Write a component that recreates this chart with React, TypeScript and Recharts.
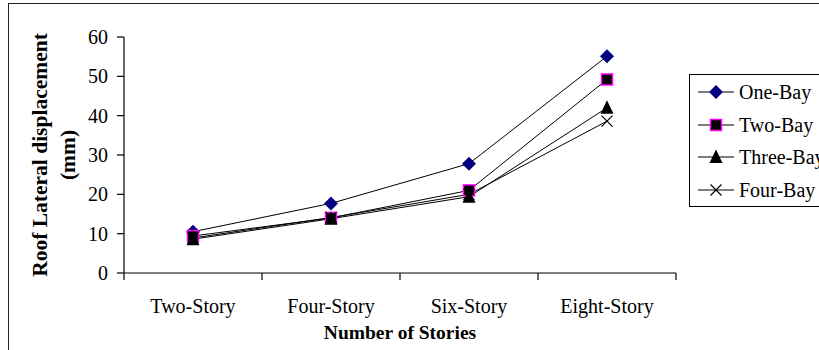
import React from 'react';
import { LineChart, Line, XAxis, YAxis } from 'recharts';

// Categories and series values (roof lateral displacement, mm)
const stories = ['Two-Story', 'Four-Story', 'Six-Story', 'Eight-Story'];
const oneBay = [10.5, 17.7, 27.8, 55.1];
const twoBay = [9.4, 14.0, 21.0, 49.2];
const threeBay = [8.6, 13.8, 19.4, 42.0];
const fourBay = [8.9, 14.1, 20.0, 38.6];
const yTicks = [0, 10, 20, 30, 40, 50, 60];

const seriesNames = ['One-Bay', 'Two-Bay', 'Three-Bay', 'Four-Bay'];

const data = stories.map((s, i) => ({
  story: s,
  'One-Bay': oneBay[i],
  'Two-Bay': twoBay[i],
  'Three-Bay': threeBay[i],
  'Four-Bay': fourBay[i],
}));

const FONT = '"Liberation Serif", "Times New Roman", serif';
const W = 819;
const H = 350;
const MARGIN = { top: 37, right: 143, bottom: 0, left: 84 };
const Y_AXIS_W = 40;
const X_AXIS_H = 77;
const PLOT_W = W - MARGIN.left - Y_AXIS_W - MARGIN.right;
const HALF_BAND = PLOT_W / stories.length / 2;

type MarkerProps = { cx: number; cy: number };

const Diamond = ({ cx, cy }: MarkerProps) => (
  <path d={`M${cx},${cy - 7}L${cx + 7},${cy}L${cx},${cy + 7}L${cx - 7},${cy}Z`} fill="#000080" />
);
const Square = ({ cx, cy }: MarkerProps) => (
  <rect x={cx - 5.5} y={cy - 5.5} width={11} height={11} fill="#000" stroke="#FF00FF" strokeWidth={1.5} />
);
const Triangle = ({ cx, cy }: MarkerProps) => (
  <path d={`M${cx},${cy - 7.5}L${cx + 6.5},${cy + 6}L${cx - 6.5},${cy + 6}Z`} fill="#000" />
);
const Cross = ({ cx, cy }: MarkerProps) => (
  <path d={`M${cx - 5.5},${cy - 5.5}L${cx + 5.5},${cy + 5.5}M${cx + 5.5},${cy - 5.5}L${cx - 5.5},${cy + 5.5}`} stroke="#000" strokeWidth={1.2} fill="none" />
);

const markers = [Diamond, Square, Triangle, Cross];

const makeDot = (M: (p: MarkerProps) => React.ReactElement) => (props: any) => {
  const { cx, cy, index } = props;
  if (cx == null || cy == null) return <g key={index} />;
  return <g key={index}><M cx={cx} cy={cy} /></g>;
};

// Category tick: label at the band center, tick marks at band boundaries
const XTick = (props: any) => {
  const { x, y, payload, index } = props;
  const last = index === stories.length - 1;
  return (
    <g>
      <line x1={x - HALF_BAND} y1={y} x2={x - HALF_BAND} y2={y + 7} stroke="#000" strokeWidth={1.2} />
      {last && <line x1={x + HALF_BAND} y1={y} x2={x + HALF_BAND} y2={y + 7} stroke="#000" strokeWidth={1.2} />}
      <text x={x} y={y + 40} textAnchor="middle" fontFamily={FONT} fontSize={20} fill="#000">
        {payload.value}
      </text>
    </g>
  );
};

const XLabel = (props: any) => {
  const { viewBox } = props;
  const cx = viewBox.x + viewBox.width / 2;
  return (
    <text x={cx} y={viewBox.y + 66} textAnchor="middle" fontFamily={FONT} fontSize={19.5} fontWeight="bold" fill="#000">
      Number of Stories
    </text>
  );
};

const YLabel = (props: any) => {
  const { viewBox } = props;
  const cy = viewBox.y + viewBox.height / 2;
  return (
    <g fontFamily={FONT} fontSize={21.5} fontWeight="bold" fill="#000">
      <text x={40} y={cy} transform={`rotate(-90 40 ${cy})`} textAnchor="middle" dominantBaseline="central">
        Roof Lateral displacement
      </text>
      <text x={68} y={cy} transform={`rotate(-90 68 ${cy})`} textAnchor="middle" dominantBaseline="central">
        (mm)
      </text>
    </g>
  );
};

const LegendBox = () => (
  <div
    style={{
      position: 'absolute',
      left: 689,
      top: 74,
      border: '1px solid #000',
      background: '#fff',
      width: 140,
      paddingTop: 1,
      fontFamily: FONT,
      fontSize: 20,
      color: '#000',
    }}
  >
    {seriesNames.map((name, i) => {
      const M = markers[i];
      return (
        <div key={name} style={{ height: 32.5, display: 'flex', alignItems: 'center', paddingLeft: 8, whiteSpace: 'nowrap' }}>
          <svg width={36} height={20} style={{ display: 'block' }}>
            <line x1={0} y1={10} x2={36} y2={10} stroke="#000" strokeWidth={1} />
            <M cx={18} cy={10} />
          </svg>
          <span style={{ marginLeft: 5, lineHeight: '20px' }}>{name}</span>
        </div>
      );
    })}
  </div>
);

export default function App() {
  return (
    <div style={{ position: 'absolute', left: 0, top: 0, width: W, height: H, overflow: 'hidden', background: '#fff' }}>
      <div style={{ position: 'absolute', left: 8, top: 3, width: 840, height: 380, border: '1px solid #222' }} />
      <div style={{ position: 'absolute', left: 0, top: 0 }}>
        <LineChart width={W} height={H} data={data} margin={MARGIN}>
          <XAxis
            dataKey="story"
            height={X_AXIS_H}
            padding={{ left: HALF_BAND, right: HALF_BAND }}
            axisLine={{ stroke: '#000', strokeWidth: 1.2 }}
            tickLine={false}
            tickSize={0}
            tickMargin={0}
            tick={<XTick />}
            interval={0}
            label={{ content: <XLabel /> } as any}
          />
          <XAxis xAxisId="top" dataKey="story" orientation="top" height={0} axisLine={{ stroke: '#808080' }} tick={false} tickLine={false} />
          <YAxis
            width={Y_AXIS_W}
            domain={[0, 60]}
            ticks={yTicks}
            interval={0}
            axisLine={{ stroke: '#000', strokeWidth: 1.2 }}
            tickLine={{ stroke: '#000', strokeWidth: 1.2 }}
            tickSize={7}
            tickMargin={9}
            tick={{ fontFamily: FONT, fontSize: 20, fill: '#000' }}
            label={{ content: <YLabel /> } as any}
          />
          <YAxis yAxisId="right" orientation="right" width={0} domain={[0, 60]} axisLine={{ stroke: '#808080' }} tick={false} tickLine={false} />
          {seriesNames.map((name, i) => (
            <Line
              key={name}
              type="linear"
              dataKey={name}
              stroke="#000"
              strokeWidth={1}
              dot={makeDot(markers[i])}
              activeDot={false}
              isAnimationActive={false}
            />
          ))}
        </LineChart>
      </div>
      <LegendBox />
    </div>
  );
}
